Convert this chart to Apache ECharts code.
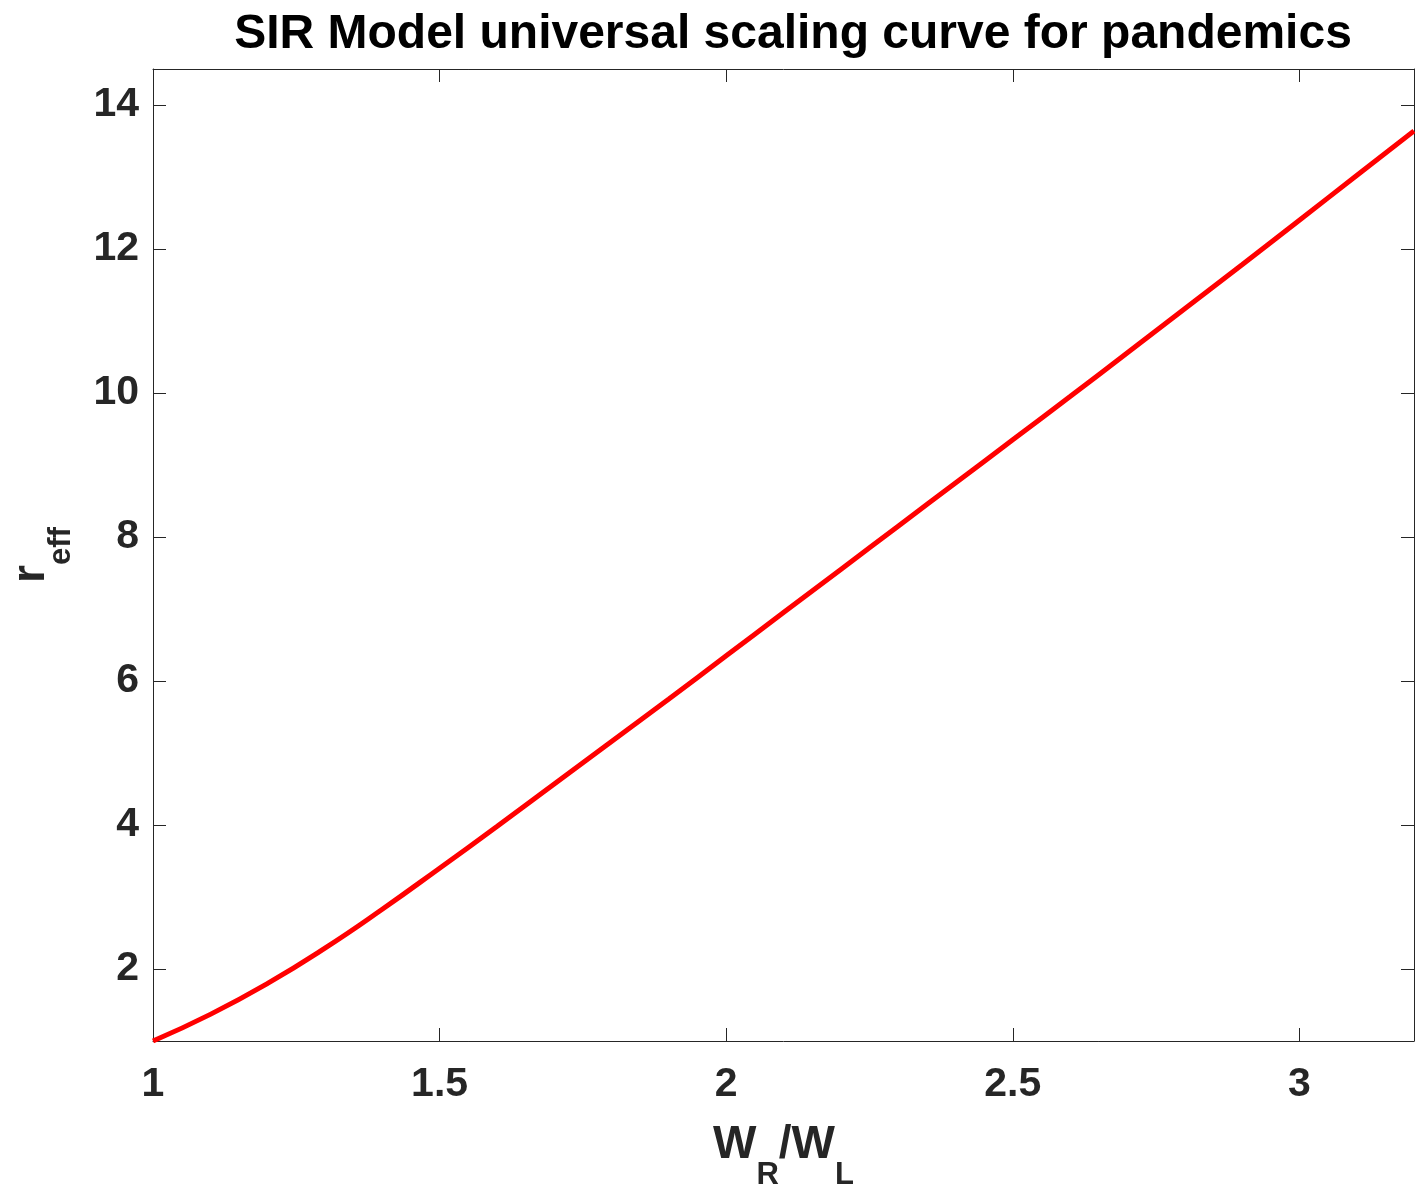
<!DOCTYPE html>
<html>
<head>
<meta charset="utf-8">
<script src="https://cdn.jsdelivr.net/npm/echarts@6/dist/echarts.min.js"></script>
<style>html,body{margin:0;padding:0;background:#fff}#c{width:1415px;height:1196px}</style>
</head>
<body>
<div id="c"></div>
<script>
// Data
const xValues = [1.0, 1.1, 1.2, 1.3, 1.4, 1.5, 1.6, 1.7, 1.8, 1.9, 2.0, 2.1, 2.2, 2.3, 2.4, 2.5, 2.6, 2.7, 2.8, 2.9, 3.0, 3.1, 3.2];
const rEff    = [1.00, 1.37, 1.80, 2.29, 2.83, 3.40, 3.98, 4.57, 5.16, 5.75, 6.35, 6.95, 7.55, 8.15, 8.75, 9.35, 9.95, 10.56, 11.17, 11.78, 12.40, 13.02, 13.64];
const titleText = 'SIR Model universal scaling curve for pandemics';
const xRange = [1, 3.2];
const yRange = [1, 14.5];

const FONT = '"Liberation Sans", Arial, Helvetica, sans-serif';
const AX = '#262626';
const chart = echarts.init(document.getElementById('c'), null, {renderer: 'canvas'});

const seriesData = xValues.map((x, i) => [x, rEff[i]]);

const axisLineStyle = {show: true, lineStyle: {color: AX, width: 1}};
const tickStyle = {show: true, inside: true, length: 13, lineStyle: {color: AX, width: 1}};
const nameRich = {
  m: {fontFamily: FONT, fontSize: 46, fontWeight: 'bold', color: AX, verticalAlign: 'top'},
  s: {fontFamily: FONT, fontSize: 31, fontWeight: 'bold', color: AX, verticalAlign: 'top', padding: [38, 0, 0, 0]}
};

chart.setOption({
  animation: false,
  backgroundColor: '#ffffff',
  title: {
    text: titleText,
    left: 788, top: 6,
    textAlign: 'center',
    textStyle: {fontFamily: FONT, fontSize: 48, fontWeight: 'bold', color: '#000'}
  },
  grid: {left: 150, right: 1, top: 69, bottom: 147, containLabel: false},
  xAxis: [{
    type: 'value', position: 'bottom', min: xRange[0], max: xRange[1], interval: 0.5,
    axisLine: axisLineStyle, axisTick: tickStyle, splitLine: {show: false},
    axisLabel: {show: true, margin: 23, showMaxLabel: false, fontFamily: FONT, fontSize: 41, fontWeight: 'bold', color: AX},
    name: '{m|W}{s|R}{m|/W}{s|L}', nameLocation: 'middle', nameGap: 81,
    nameTextStyle: {color: AX, rich: nameRich}
  }, {
    type: 'value', position: 'top', min: xRange[0], max: xRange[1], interval: 0.5,
    axisLine: axisLineStyle, axisTick: tickStyle, splitLine: {show: false}, axisLabel: {show: false}
  }],
  yAxis: [{
    type: 'value', position: 'left', min: yRange[0], max: yRange[1], minInterval: 2, maxInterval: 2,
    axisLine: axisLineStyle, axisTick: tickStyle, splitLine: {show: false},
    axisLabel: {show: true, margin: 14, showMinLabel: false, showMaxLabel: false, fontFamily: FONT, fontSize: 41, fontWeight: 'bold', color: AX},
    name: '{m|r}{s|eff}', nameLocation: 'middle', nameGap: 76,
    nameTextStyle: {color: AX, rich: nameRich}
  }, {
    type: 'value', position: 'right', min: yRange[0], max: yRange[1], minInterval: 2, maxInterval: 2,
    axisLine: axisLineStyle, axisTick: tickStyle, splitLine: {show: false}, axisLabel: {show: false}
  }],
  series: [{
    type: 'line', xAxisIndex: 0, yAxisIndex: 0,
    data: seriesData, smooth: true, showSymbol: false, symbol: 'none',
    lineStyle: {color: '#ff0000', width: 5}
  }]
});
</script>
</body>
</html>
